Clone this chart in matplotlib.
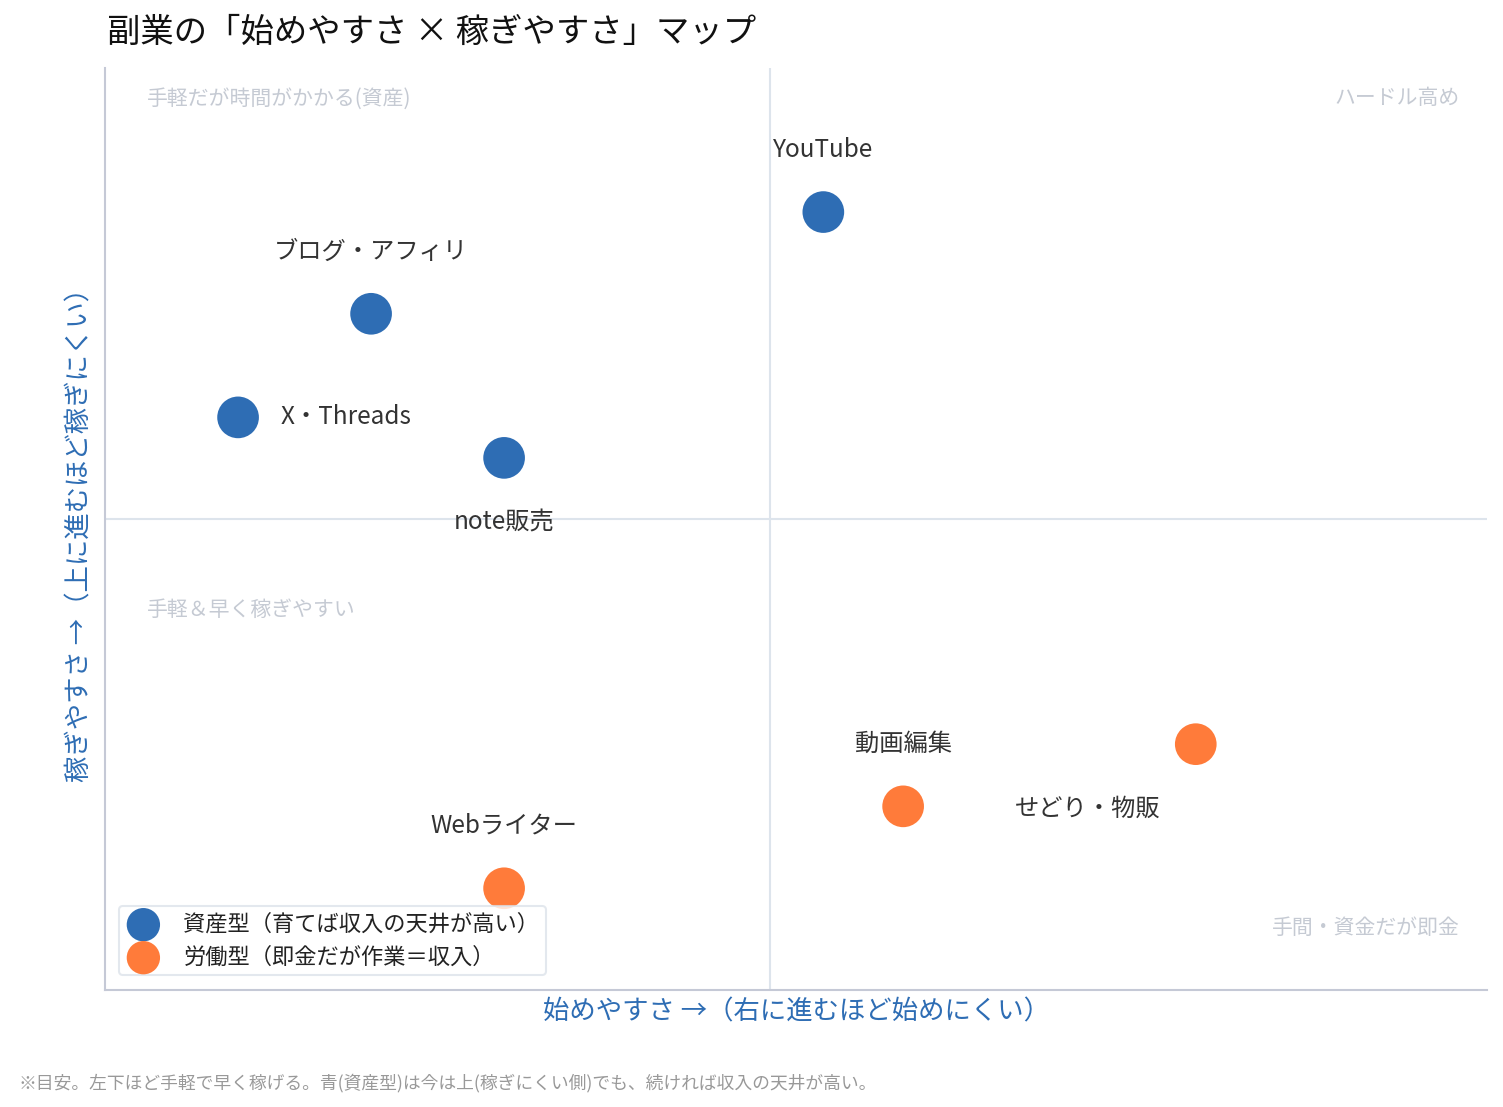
import matplotlib
matplotlib.use("Agg")
import matplotlib.pyplot as plt

plt.rcParams['font.family'] = ['Noto Sans CJK JP', 'DejaVu Sans']

# data (x = 始めにくさ, y = 稼ぎにくさ)
names = ["YouTube", "ブログ・アフィリ", "X・Threads", "note販売",
         "動画編集", "せどり・物販", "Webライター"]
xs = [5.4, 2.0, 1.0, 3.0, 6.0, 8.2, 3.0]
ys = [8.26, 7.18, 6.08, 5.65, 1.95, 2.61, 1.08]
kinds = ["asset", "asset", "asset", "asset", "labor", "labor", "labor"]
# label offsets in pixels (dx, dy, ha)
offsets = [(0, 62, "center"), (0, 62, "center"), (43, 0, "left"), (0, -65, "center"),
           (0, 63, "center"), (-108, -65, "center"), (0, 63, "center")]

blue = "#2E6DB4"
orange = "#FF7B3A"
colors = {"asset": blue, "labor": orange}
legend_labels = {"asset": "資産型（育てば収入の天井が高い）",
                 "labor": "労働型（即金だが作業＝収入）"}

fig = plt.figure(figsize=(15.03, 11.07), dpi=100)
ax = fig.add_axes([0.0699, 0.1057, 0.9195, 0.8329])
ax.set_xlim(0, 10.39)
ax.set_ylim(0, 9.79)

ax.axvline(5, color="#dde4ec", lw=1.5, zorder=0)
ax.axhline(5, color="#dde4ec", lw=1.5, zorder=0)

for k in ["asset", "labor"]:
    px = [x for x, kk in zip(xs, kinds) if kk == k]
    py = [y for y, kk in zip(ys, kinds) if kk == k]
    ax.scatter(px, py, s=900, color=colors[k], edgecolors="none",
               label=legend_labels[k], zorder=3)

for n, x, y, (dx, dy, ha) in zip(names, xs, ys, offsets):
    ax.annotate(n, (x, y), xytext=(dx, dy), textcoords="offset pixels",
                ha=ha, va="center", fontsize=17.5, color="#333333")

# quadrant notes
qc = "#c5cad3"
ax.text(0.03, 0.967, "手軽だが時間がかかる(資産)", transform=ax.transAxes,
        ha="left", va="center", fontsize=15, color=qc)
ax.text(0.98, 0.967, "ハードル高め", transform=ax.transAxes,
        ha="right", va="center", fontsize=15, color=qc)
ax.text(0.03, 0.412, "手軽＆早く稼ぎやすい", transform=ax.transAxes,
        ha="left", va="center", fontsize=15, color=qc)
ax.text(0.98, 0.067, "手間・資金だが即金", transform=ax.transAxes,
        ha="right", va="center", fontsize=15, color=qc)

for s in ["top", "right"]:
    ax.spines[s].set_visible(False)
for s in ["left", "bottom"]:
    ax.spines[s].set_color("#c5c9d6")
    ax.spines[s].set_linewidth(1.5)
ax.set_xticks([])
ax.set_yticks([])

ax.set_xlabel("始めやすさ →（右に進むほど始めにくい）", fontsize=19, color=blue, labelpad=6)
ax.set_ylabel("稼ぎやすさ →（上に進むほど稼ぎにくい）", fontsize=19, color=blue, labelpad=8)

leg = ax.legend(loc="lower left", bbox_to_anchor=(0.002, 0.004), fontsize=16,
                frameon=True, markerscale=0.8, handletextpad=1.0,
                labelspacing=0.45, borderpad=0.3, handlelength=1.6)
leg.get_frame().set_edgecolor("#dde3ea")
leg.get_frame().set_linewidth(1.5)
for t in leg.get_texts():
    t.set_color("#222222")

fig.text(0.071, 0.971, "副業の「始めやすさ × 稼ぎやすさ」マップ", fontsize=24,
         ha="left", va="center", color="#111111")
fig.text(0.012, 0.022, "※目安。左下ほど手軽で早く稼げる。青(資産型)は今は上(稼ぎにくい側)でも、続ければ収入の天井が高い。",
         fontsize=12.8, color="#999999", ha="left", va="center")

fig.savefig("out.png", dpi=100)
